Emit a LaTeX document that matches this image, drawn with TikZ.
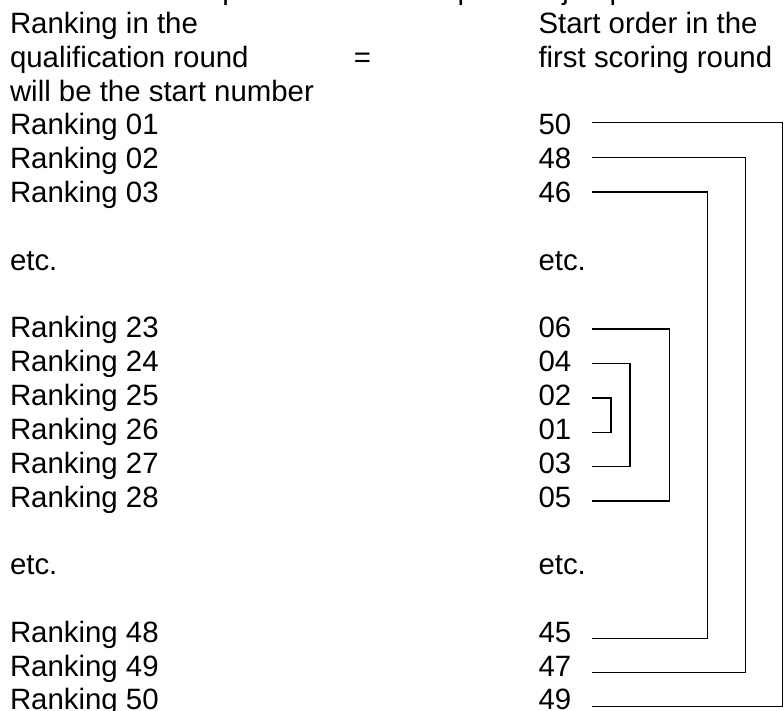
\documentclass[tikz,border=0pt]{standalone}
\usepackage{fontspec}
\setmainfont{Liberation Sans}
\begin{document}
\begin{tikzpicture}[x=1pt,y=-1pt,
  txt/.style={anchor=base west,inner sep=0pt,font=\fontsize{29.4}{33.8}\selectfont},
  conn/.style={line width=1.5pt,line join=miter}]
\useasboundingbox (0,0) rectangle (784,711);
\begin{scope}
\clip (0,0) rectangle (784,711);
\node[txt] (intro) at (9.8,-0.3) {For the first competition round the pairs of jumpers are to be determined as follows:};
\end{scope}
% headers
\node[txt] (h1) at (9.8,33.5) {Ranking in the};
\node[txt] (h2) at (9.8,67.4) {qualification round};
\node[txt] (h3) at (9.8,101.2) {will be the start number};
\node[txt] (s1) at (538.3,33.5) {Start order in the};
\node[txt] (s2) at (538.3,67.4) {first scoring round};
\node[inner sep=0pt,font=\fontsize{29.4}{33.8}\selectfont] (eq) at (362.5,60.5) {=};
% left column
\node[txt] (r01) at (9.8,135) {Ranking 01};
\node[txt] (r02) at (9.8,168.82) {Ranking 02};
\node[txt] (r03) at (9.8,202.64) {Ranking 03};
\node[txt] (le1) at (9.8,270.28) {etc.};
\node[txt] (r23) at (9.8,337.92) {Ranking 23};
\node[txt] (r24) at (9.8,371.74) {Ranking 24};
\node[txt] (r25) at (9.8,405.56) {Ranking 25};
\node[txt] (r26) at (9.8,439.38) {Ranking 26};
\node[txt] (r27) at (9.8,473.2) {Ranking 27};
\node[txt] (r28) at (9.8,507.02) {Ranking 28};
\node[txt] (le2) at (9.8,574.66) {etc.};
\node[txt] (r48) at (9.8,642.3) {Ranking 48};
\node[txt] (r49) at (9.8,676.12) {Ranking 49};
\node[txt] (r50) at (9.8,709.94) {Ranking 50};
% right column
\node[txt] (n50) at (538.3,135) {50};
\node[txt] (n48) at (538.3,168.82) {48};
\node[txt] (n46) at (538.3,202.64) {46};
\node[txt] (re1) at (538.3,270.28) {etc.};
\node[txt] (n06) at (538.3,337.92) {06};
\node[txt] (n04) at (538.3,371.74) {04};
\node[txt] (n02) at (538.3,405.56) {02};
\node[txt] (n01) at (538.3,439.38) {01};
\node[txt] (n03) at (538.3,473.2) {03};
\node[txt] (n05) at (538.3,507.02) {05};
\node[txt] (re2) at (538.3,574.66) {etc.};
\node[txt] (n45) at (538.3,642.3) {45};
\node[txt] (n47) at (538.3,676.12) {47};
\node[txt] (n49) at (538.3,709.94) {49};
% connector ends
\coordinate (c50) at (591.7,122.7);
\coordinate (c48) at (591.7,157.4);
\coordinate (c46) at (591.7,192.0);
\coordinate (c06) at (591.7,329.2);
\coordinate (c04) at (591.7,363.3);
\coordinate (c02) at (591.7,397.8);
\coordinate (c01) at (591.7,432.6);
\coordinate (c03) at (591.7,466.6);
\coordinate (c05) at (591.7,500.9);
\coordinate (c45) at (591.7,638.6);
\coordinate (c47) at (591.7,672.6);
\coordinate (c49) at (591.7,706.7);
% connectors
\draw[conn] (c50) -- ++(191,0) |- (c49);
\draw[conn] (c48) -- ++(154,0) |- (c47);
\draw[conn] (c46) -- ++(116,0) |- (c45);
\draw[conn] (c06) -- ++(77.6,0) |- (c05);
\draw[conn] (c04) -- ++(38.3,0) |- (c03);
\draw[conn] (c02) -- ++(19.3,0) |- (c01);
\end{tikzpicture}
\end{document}
